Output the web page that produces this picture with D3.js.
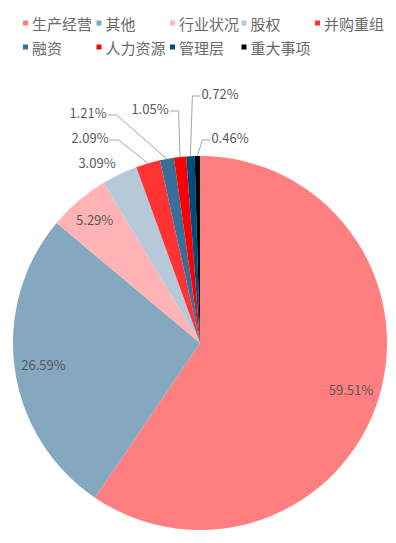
<!DOCTYPE html>
<html>
<head>
<meta charset="utf-8">
<script src="https://cdn.jsdelivr.net/npm/d3@7"></script>
<style>
    body { margin: 0; background: #fff; }
    svg text { font-family: "Noto Sans CJK SC", "Liberation Sans", sans-serif; }
</style>
</head>
<body>
<svg id="chart" width="396" height="543"></svg>
<script>
// Chart data
const categories = ['生产经营', '其他', '行业状况', '股权', '并购重组', '融资', '人力资源', '管理层', '重大事项'];
const values = [59.51, 26.59, 5.29, 3.09, 2.09, 1.21, 1.05, 0.72, 0.46];
const colors = ['#FF7F80', '#84A8BF', '#FFB3B5', '#B5C9D9', '#FF3333', '#386F99', '#FF0000', '#004C7F', '#000000'];
const labelTexts = ['59.51%', '26.59%', '5.29%', '3.09%', '2.09%', '1.21%', '1.05%', '0.72%', '0.46%'];

const svg = d3.select('#chart');
const cx = 200, cy = 343, radius = 187;

const pie = d3.pie().sort(null).value(d => d.value);
const arcs = pie(categories.map((c, i) => ({ name: c, value: values[i], color: colors[i], label: labelTexts[i] })));
const arc = d3.arc().innerRadius(0).outerRadius(radius);

const g = svg.append('g').attr('transform', `translate(${cx},${cy})`);

// Slices
g.selectAll('path')
    .data(arcs)
    .join('path')
    .attr('d', arc)
    .attr('fill', d => d.data.color);

// Label layout: inside labels use a radius, outside labels get an offset from centre
// side: which side of the text the leader line attaches to (null = no leader)
const labelLayout = [
    { r: 158 },
    { r: 158 },
    { r: 162 },
    { dx: -103, dy: -181, side: null },
    { dx: -110, dy: -206, side: 'right' },
    { dx: -112, dy: -231, side: 'right' },
    { dx: -50, dy: -235, side: 'right' },
    { dx: 20, dy: -250, side: 'left' },
    { dx: 30, dy: -206, side: 'left' }
];

const labelFont = 13;
const measure = svg.append('text').attr('font-size', labelFont).attr('font-family', 'Liberation Sans');

arcs.forEach((d, i) => {
    const lay = labelLayout[i];
    const mid = (d.startAngle + d.endAngle) / 2;
    let x, y;
    if (lay.r !== undefined) {
        x = Math.sin(mid) * lay.r;
        y = -Math.cos(mid) * lay.r;
    } else {
        x = lay.dx;
        y = lay.dy;
    }
    g.append('text')
        .attr('x', x)
        .attr('y', y)
        .attr('text-anchor', 'middle')
        .attr('dominant-baseline', 'central')
        .attr('font-family', 'Liberation Sans, sans-serif')
        .attr('font-size', labelFont)
        .attr('fill', '#595959')
        .text(d.data.label);

    if (lay.side) {
        measure.text(d.data.label);
        const w = measure.node().getComputedTextLength();
        const edge = [Math.sin(mid) * radius, -Math.cos(mid) * radius];
        const ly = y + 3;
        const start = lay.side === 'right' ? x + w / 2 + 1 : x - w / 2 - 1;
        const elbow = lay.side === 'right' ? start + 9 : start - 8;
        g.append('polyline')
            .attr('points', [[start, ly], [elbow, ly], edge].map(p => p.join(',')).join(' '))
            .attr('fill', 'none')
            .attr('stroke', '#A6A6A6')
            .attr('stroke-width', 1);
    }
});
measure.remove();

// Legend
const legendCols = [23, 96.5, 170, 241.5, 315];
const legendRows = [23, 47];
const legend = svg.append('g');
categories.forEach((c, i) => {
    const row = i < 5 ? 0 : 1;
    const col = i < 5 ? i : i - 5;
    const item = legend.append('g')
        .attr('transform', `translate(${legendCols[col]},${legendRows[row]})`);
    item.append('rect')
        .attr('x', 0).attr('y', -2.5)
        .attr('width', 5).attr('height', 5)
        .attr('fill', colors[i]);
    item.append('text')
        .attr('x', 9)
        .attr('y', 0)
        .attr('dominant-baseline', 'central')
        .attr('font-size', 15)
        .attr('fill', '#6a6a6a')
        .text(c);
});
</script>
</body>
</html>
